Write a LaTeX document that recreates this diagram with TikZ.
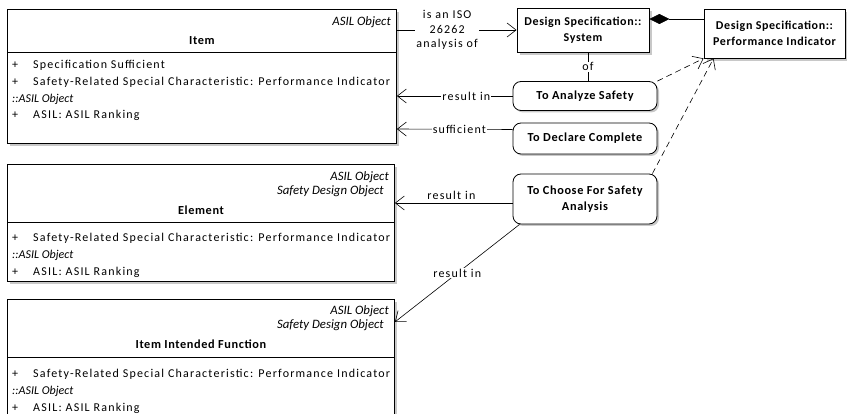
\documentclass[tikz,border=0pt]{standalone}
\usepackage{fontspec}
\setmainfont{Carlito}
\newfontfamily\spacedfont[LetterSpace=10]{Carlito}
\newfontfamily\widefont[LetterSpace=5]{Carlito}
\usetikzlibrary{arrows.meta, positioning, shadows}
\definecolor{shadegray}{RGB}{200,200,200}
\newcommand\plusattr[1]{\makebox[21pt][l]{+}#1}
\tikzset{
  classbox/.style={
    draw, rectangle, fill=white, anchor=north west,
    inner sep=0pt, line width=0.9pt,
    drop shadow={shadow xshift=3pt, shadow yshift=-3pt, fill=shadegray, opacity=1}
  },
  actbox/.style={
    draw, rectangle, rounded corners=8pt, fill=white,
    minimum width=144pt, align=center, line width=0.8pt,
    font=\widefont\fontsize{12.3}{15.5}\selectfont\bfseries,
    drop shadow={shadow xshift=2pt, shadow yshift=-2pt, fill=shadegray, opacity=1}
  },
  specbox/.style={
    draw, rectangle, fill=white, align=center, line width=0.9pt,
    font=\widefont\fontsize{12}{15.5}\selectfont\bfseries,
    drop shadow={shadow xshift=3pt, shadow yshift=-3pt, fill=shadegray, opacity=1}
  },
  stereo/.style={font=\fontsize{12.8}{14.5}\selectfont\itshape, inner sep=0pt, align=right},
  title/.style={font=\widefont\fontsize{12.3}{14}\selectfont\bfseries, inner sep=0pt},
  attrs/.style={font=\spacedfont\fontsize{12}{16.8}\selectfont, inner sep=0pt,
    align=left, anchor=north west},
  lbl/.style={font=\spacedfont\fontsize{12}{14.5}\selectfont, fill=white, inner sep=1pt},
  openarrow/.style={-{Straight Barb[length=9pt, width=14pt]}, line width=0.6pt},
  depend/.style={openarrow, dash pattern=on 6pt off 4pt},
  divider/.style={line width=0.6pt}
}
\begin{document}
\begin{tikzpicture}[x=1pt, y=-1pt]
  \useasboundingbox (0,0) rectangle (847,414);

  % classes
  \node[classbox, minimum width=389pt, minimum height=134pt] (item) at (7,9) {};
  \node[classbox, minimum width=387pt, minimum height=117pt] (elem) at (7,164) {};
  \node[classbox, minimum width=387pt, minimum height=125pt] (func) at (7,299) {};

  \draw[divider] ([yshift=-43pt]item.north west) -- ([yshift=-43pt]item.north east);
  \draw[divider] ([yshift=-58pt]elem.north west) -- ([yshift=-58pt]elem.north east);
  \draw[divider] ([yshift=-58pt]func.north west) -- ([yshift=-58pt]func.north east);

  % Item
  \node[stereo, anchor=east] (itemst) at (391,22) {ASIL Object};
  \node[title] (itemtt) at (item.north |- 0,41) {Item};
  \node[attrs] (itemat) at (12,60) {\plusattr{Specification Sufficient}\\
    \plusattr{Safety-Related Special Characteristic: Performance Indicator}\\
    {\itshape\rmfamily ::ASIL Object}\\
    \plusattr{ASIL: ASIL Ranking}};

  % Element
  \node[stereo, anchor=north east] (elemst) at (389,171)
    {ASIL Object\\Safety Design Object\hspace*{5pt}};
  \node[title] (elemtt) at (elem.north |- 0,210) {Element};
  \node[attrs] (elemat) at (12,233) {%
    \plusattr{Safety-Related Special Characteristic: Performance Indicator}\\
    {\itshape\rmfamily ::ASIL Object}\\
    \plusattr{ASIL: ASIL Ranking}};

  % Item Intended Function
  \node[stereo, anchor=north east] (funcst) at (389,305)
    {ASIL Object\\Safety Design Object\hspace*{5pt}};
  \node[title] (functt) at (func.north |- 0,344) {Item Intended Function};
  \node[attrs] (funcat) at (12,369) {%
    \plusattr{Safety-Related Special Characteristic: Performance Indicator}\\
    {\itshape\rmfamily ::ASIL Object}\\
    \plusattr{ASIL: ASIL Ranking}};

  % specifications
  \node[specbox, minimum width=132pt, minimum height=44pt] (sys) at (583,30)
    {Design Specification::\\System};
  \node[specbox, minimum width=141pt, minimum height=49pt] (perf) at (774.5,33.5)
    {Design Specification::\\Performance Indicator};

  % activities
  \node[actbox, minimum height=29pt] (analyze) at (585,96) {To Analyze Safety};
  \node[actbox, minimum height=31pt] (declare) at (585,138.5) {To Declare Complete};
  \node[actbox, minimum height=50pt] (choose) at (585,199) {To Choose For Safety\\Analysis};

  % Item -> System
  \draw[openarrow] (item.east |- sys.west) --
    node[lbl, align=center, pos=0.42] {is an ISO\\26262\\analysis of} (sys.west);

  % System <>- Performance Indicator
  \draw[{Diamond[length=20pt, width=10pt]}-, line width=0.6pt]
    (sys.east |- 0,19) -- (perf.west |- 0,19);

  % System -- To Analyze Safety
  \draw[line width=0.6pt] ([xshift=5pt]sys.south) -- node[lbl] {of}
    ([xshift=5pt]sys.south |- analyze.north);

  % activities -> classes
  \draw[openarrow] (analyze.west) -- node[lbl, pos=0.4] {result in} (item.east |- analyze.west);
  \draw[openarrow] ([yshift=9pt]declare.west) -- node[lbl, pos=0.46] {sufficient}
    (item.east |- 0,129);
  \draw[openarrow] ([yshift=-4pt]choose.west) -- node[lbl, above=2pt, fill=none, pos=0.52] {result in}
    (elem.east |- 0,203);
  \draw[openarrow] ([xshift=7pt]choose.south west) -- node[lbl, pos=0.5] {result in}
    (func.east |- 0,322);

  % dependencies on Performance Indicator
  \draw[depend] (analyze.north east) -- (perf.south west);
  \draw[depend] ([xshift=-5pt]choose.north east) -- ([xshift=10pt]perf.south west);
\end{tikzpicture}
\end{document}
